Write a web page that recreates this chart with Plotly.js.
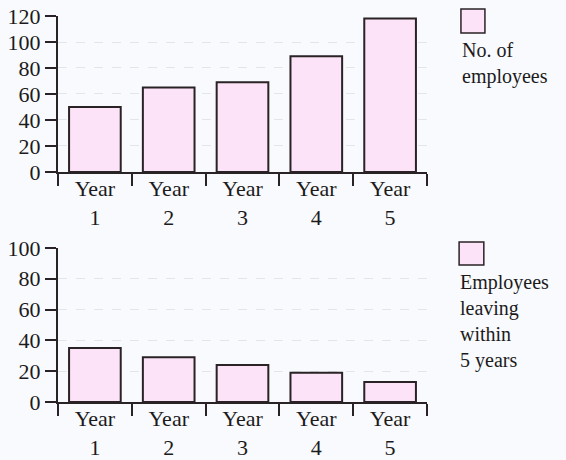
<!DOCTYPE html>
<html>
<head>
<meta charset="utf-8">
<script src="https://cdn.plot.ly/plotly-3.0.1.min.js"></script>
<style>html,body{margin:0;padding:0;background:#f8fafd;}</style>
</head>
<body>
<div id="chart" style="width:566px;height:460px;"></div>
<script>
var categories = ["Year 1", "Year 2", "Year 3", "Year 4", "Year 5"];
var employees = [50, 65, 69, 89, 118];
var leaving = [35, 29, 24, 19, 13];
var topTicks = [0, 20, 40, 60, 80, 100, 120];
var bottomTicks = [0, 20, 40, 60, 80, 100];
var topLegend = ["No. of", "employees"];
var bottomLegend = ["Employees", "leaving", "within", "5 years"];

var tickLabels = categories.map(function (c) { return c.replace(" ", "<br>"); });
var pink = "#fde3f7";
var edge = "#2a2326";
var font = {family: "Liberation Serif, DejaVu Serif, serif", size: 22, color: "#1d1a1c"};
var legFont = {family: "Liberation Serif, DejaVu Serif, serif", size: 20, color: "#1d1a1c"};

var traces = [
  {type: "bar", x: categories, y: employees, xaxis: "x", yaxis: "y",
   marker: {color: pink, line: {color: edge, width: 2}}, hoverinfo: "none"},
  {type: "bar", x: categories, y: leaving, xaxis: "x2", yaxis: "y2",
   marker: {color: pink, line: {color: edge, width: 2}}, hoverinfo: "none"}
];

function xax(anchor) {
  return {
    anchor: anchor, domain: [0, 1], type: "category", range: [-0.5, 4.5],
    tickmode: "array", tickvals: categories, ticktext: tickLabels,
    tickson: "boundaries", ticks: "outside", ticklen: 12, tickwidth: 2, tickcolor: edge,
    ticklabelstandoff: -4,
    showline: true, linecolor: edge, linewidth: 2, showgrid: false, zeroline: false,
    tickfont: font, fixedrange: true
  };
}
function yax(anchor, domain, range, vals) {
  return {
    anchor: anchor, domain: domain, range: range, tickmode: "array", tickvals: vals,
    ticks: "outside", ticklen: 11, tickwidth: 2, tickcolor: edge,
    showline: true, linecolor: edge, linewidth: 2,
    showgrid: true, gridcolor: "#e2e5ea", griddash: "dash", gridwidth: 1,
    zeroline: false, tickfont: font, fixedrange: true
  };
}

var layout = {
  width: 566, height: 460,
  margin: {l: 58, r: 139, t: 16, b: 58},
  paper_bgcolor: "#f8fafd", plot_bgcolor: "#f8fafd",
  showlegend: false, bargap: 0.3,
  xaxis: xax("y"),
  yaxis: yax("x", [0.5959, 1], [0, 120], topTicks),
  xaxis2: xax("y2"),
  yaxis2: yax("x2", [0, 0.399], [0, 100], bottomTicks),
  shapes: [
    {type: "rect", xref: "paper", yref: "paper", x0: 1.092, x1: 1.157, y0: 1.018, y1: 0.956,
     fillcolor: pink, line: {color: edge, width: 1.5}},
    {type: "rect", xref: "paper", yref: "paper", x0: 1.087, x1: 1.154, y0: 0.4145, y1: 0.355,
     fillcolor: pink, line: {color: edge, width: 1.5}}
  ],
  annotations: [
    {xref: "paper", yref: "paper", x: 1.090, y: 0.945, xanchor: "left", yanchor: "top",
     align: "left", showarrow: false, text: topLegend.join("<br>"), font: legFont},
    {xref: "paper", yref: "paper", x: 1.085, y: 0.345, xanchor: "left", yanchor: "top",
     align: "left", showarrow: false, text: bottomLegend.join("<br>"), font: legFont}
  ]
};

Plotly.newPlot("chart", traces, layout, {displayModeBar: false, staticPlot: true});
</script>
</body>
</html>
